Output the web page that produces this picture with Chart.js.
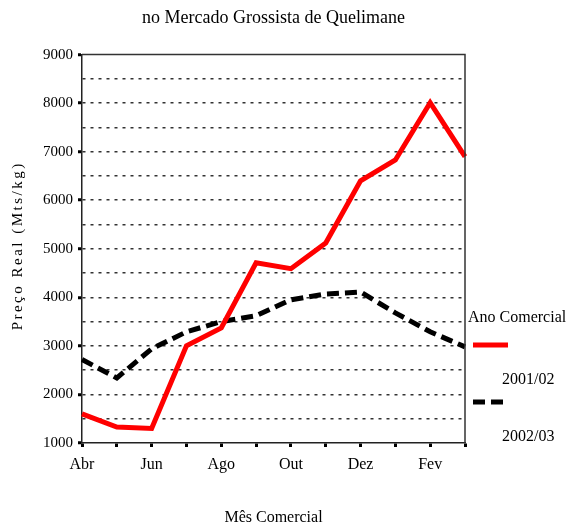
<!DOCTYPE html>
<html>
<head>
<meta charset="UTF-8">
<script src="https://cdn.jsdelivr.net/npm/chart.js@4"></script>
<style>
  body { margin: 0; background: white; }
  #chart { display: block; }
</style>
</head>
<body>
<canvas id="chart" width="568" height="526"></canvas>
<script>
// dados
const meses = ['Abr', 'Mai', 'Jun', 'Jul', 'Ago', 'Set', 'Out', 'Nov', 'Dez', 'Jan', 'Fev', 'Mar'];
const preco2001 = [1600, 1330, 1300, 3000, 3370, 4710, 4590, 5120, 6400, 6830, 8010, 6900];
const preco2002 = [2720, 2340, 2940, 3290, 3500, 3620, 3950, 4070, 4110, 3680, 3290, 2980];
const series = ['2001/02', '2002/03'];
const legendTitle = 'Ano Comercial';
const yTitle = 'Preço Real (Mts/kg)';

const FONT = "'Liberation Serif', 'Times New Roman', serif";
Chart.defaults.font.family = FONT;
Chart.defaults.color = '#000';

// moldura superior e direita da área do gráfico
const framePlugin = {
  id: 'frame',
  afterDraw(chart) {
    const { ctx, chartArea: a } = chart;
    ctx.save();
    ctx.strokeStyle = '#333';
    ctx.lineWidth = 1.5;
    ctx.beginPath();
    ctx.moveTo(a.left, a.top);
    ctx.lineTo(a.right, a.top);
    ctx.lineTo(a.right, a.bottom);
    ctx.stroke();
    ctx.restore();
  }
};

// título do eixo y (espaçado como no original)
const yTitlePlugin = {
  id: 'yTitle',
  afterDraw(chart) {
    const { ctx, chartArea: a } = chart;
    ctx.save();
    ctx.translate(18, (a.top + a.bottom) / 2 - 3);
    ctx.rotate(-Math.PI / 2);
    ctx.font = '15px ' + FONT;
    ctx.letterSpacing = '2.5px';
    ctx.fillStyle = '#000';
    ctx.textAlign = 'center';
    ctx.textBaseline = 'middle';
    ctx.fillText(yTitle, 0, 0);
    ctx.restore();
  }
};

// legenda à direita
const legendPlugin = {
  id: 'sideLegend',
  afterDraw(chart) {
    const { ctx, chartArea: a } = chart;
    const x0 = a.right;
    ctx.save();
    ctx.font = '16px ' + FONT;
    ctx.fillStyle = '#000';
    ctx.textBaseline = 'middle';
    ctx.fillText(legendTitle, x0 + 3, 318);
    chart.data.datasets.forEach((ds, i) => {
      const ly = 345 + i * 57;
      ctx.strokeStyle = ds.borderColor;
      ctx.lineWidth = 5;
      ctx.setLineDash(ds.borderDash || []);
      ctx.beginPath();
      ctx.moveTo(x0 + 8, ly);
      ctx.lineTo(x0 + 43, ly);
      ctx.stroke();
      ctx.setLineDash([]);
      ctx.fillText(ds.label, x0 + 37, ly + 35);
    });
    ctx.restore();
  }
};

new Chart(document.getElementById('chart'), {
  type: 'line',
  data: {
    labels: meses,
    datasets: [
      {
        label: series[0],
        data: preco2001,
        borderColor: '#ff0000',
        borderWidth: 5,
        pointRadius: 0,
        tension: 0
      },
      {
        label: series[1],
        data: preco2002,
        borderColor: '#000000',
        borderWidth: 5,
        borderDash: [12, 6],
        pointRadius: 0,
        tension: 0
      }
    ]
  },
  options: {
    responsive: false,
    animation: false,
    layout: { padding: { left: 0, right: 103, top: 0, bottom: 0 } },
    plugins: {
      legend: { display: false },
      tooltip: { enabled: false },
      title: {
        display: true,
        fullSize: false,
        text: 'no Mercado Grossista de Quelimane',
        font: { size: 18, weight: 'normal' },
        padding: { top: 7, bottom: 26 }
      }
    },
    scales: {
      x: {
        offset: false,
        grid: {
          drawOnChartArea: false,
          drawTicks: true,
          tickLength: 4,
          tickWidth: 3,
          tickColor: '#000'
        },
        border: { color: '#222', width: 1.5 },
        ticks: {
          autoSkip: false,
          maxRotation: 0,
          padding: 8,
          font: { size: 16 },
          callback: (v, i) => (i % 2 === 0 && i < meses.length - 1) ? meses[i] : ''
        },
        title: {
          display: true,
          text: 'Mês Comercial',
          font: { size: 16, lineHeight: 1 },
          padding: { top: 4, bottom: 0 }
        },
        afterFit: s => { s.height = 83; }
      },
      y: {
        min: 1000,
        max: 9000,
        grid: {
          color: c => (c.tick.value === 1000 || c.tick.value === 9000) ? 'rgba(0,0,0,0)' : '#333',
          lineWidth: 1.5,
          tickLength: 4,
          tickWidth: 3,
          tickColor: c => c.tick.value % 1000 === 0 ? '#000' : 'rgba(0,0,0,0)'
        },
        border: { color: '#222', width: 1.5, dash: [3, 5] },
        ticks: {
          stepSize: 500,
          padding: 5,
          font: { size: 15 },
          callback: v => v % 1000 === 0 ? String(v) : ''
        },
        afterFit: s => { s.width = 82; }
      }
    }
  },
  plugins: [framePlugin, yTitlePlugin, legendPlugin]
});
</script>
</body>
</html>
